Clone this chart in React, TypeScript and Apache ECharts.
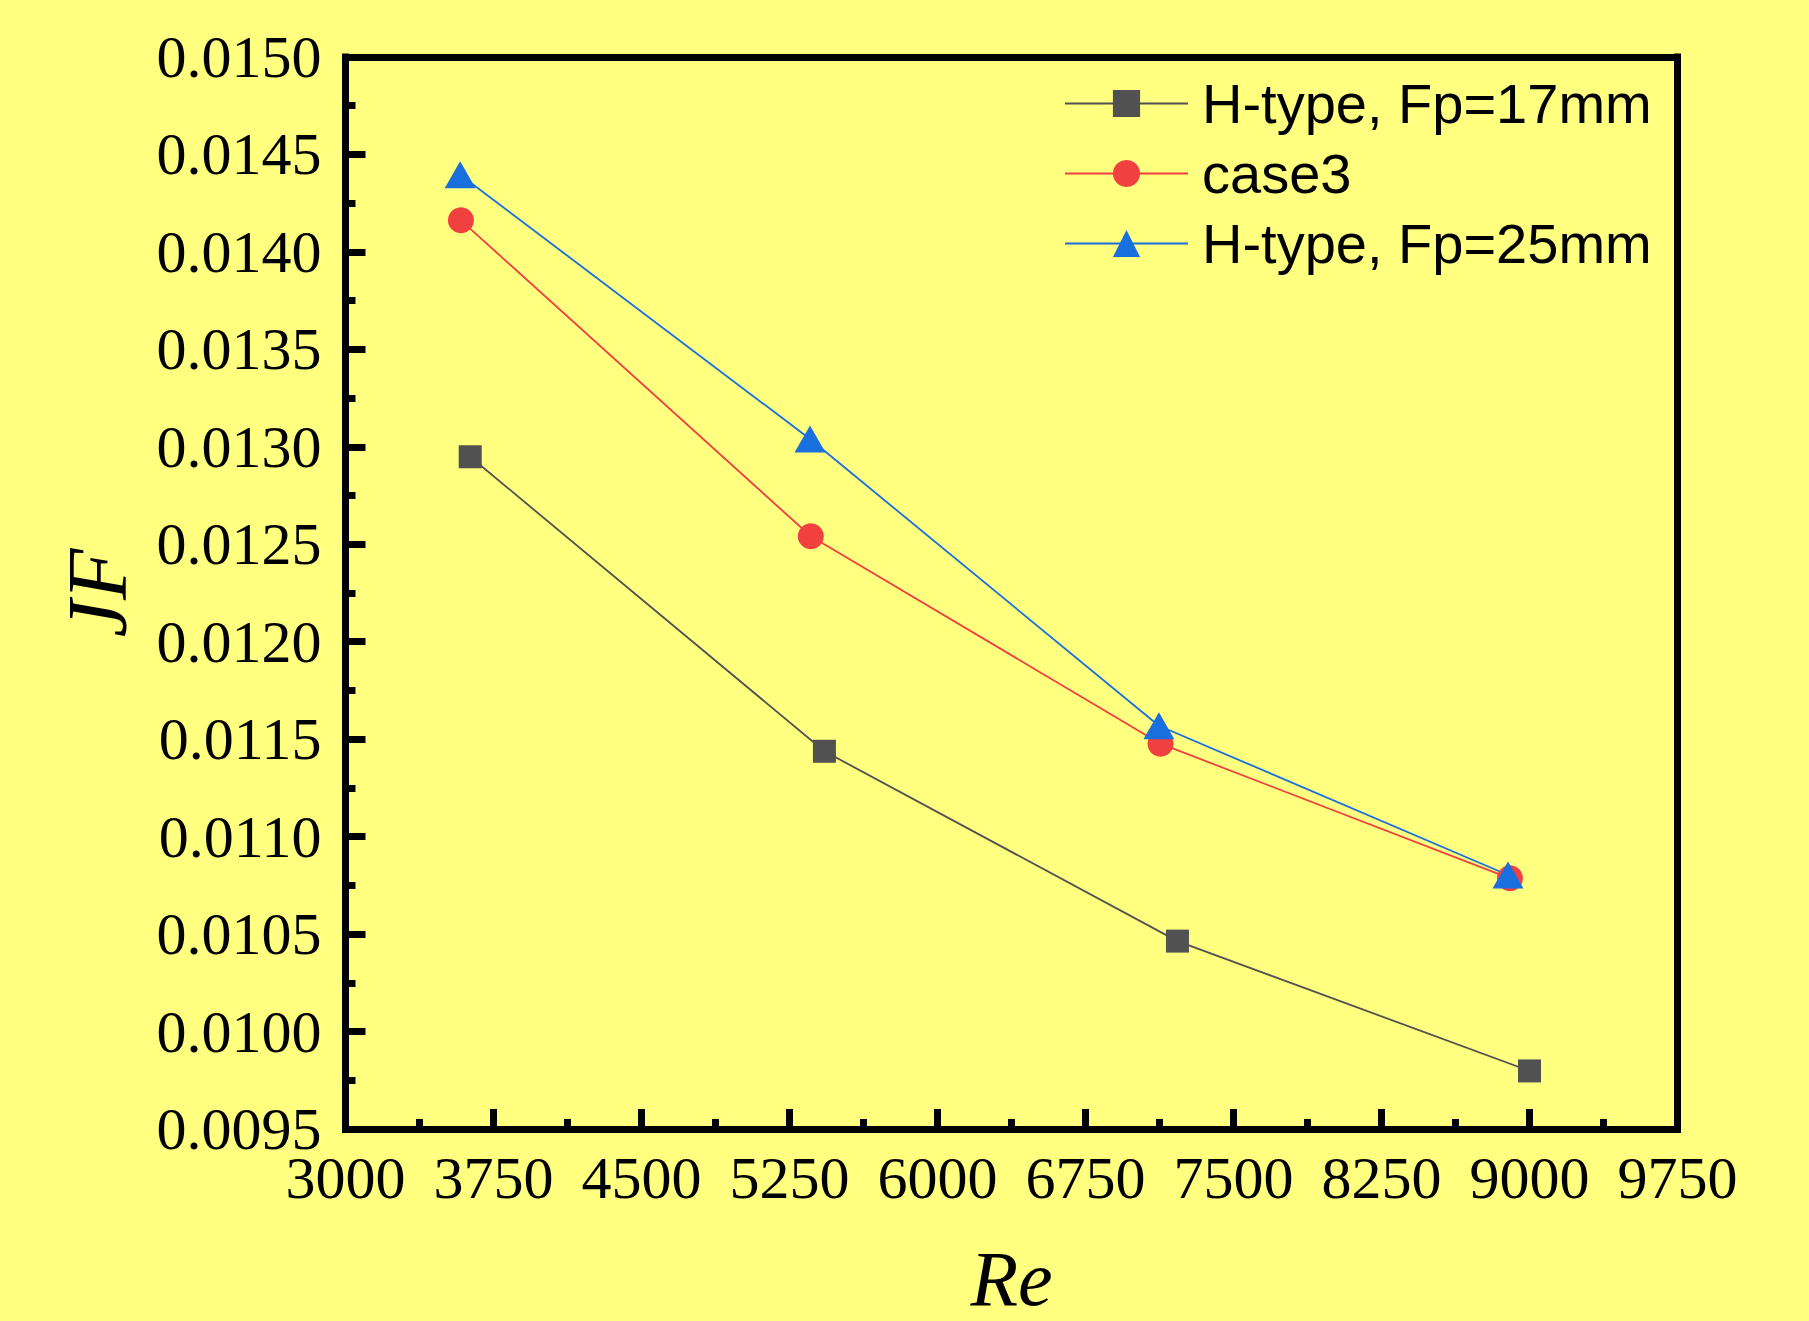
import React, { useEffect, useRef } from "react";
import * as echarts from "echarts";

const seriesNames = ["H-type, Fp=17mm", "case3", "H-type, Fp=25mm"];
const reFp17 = [3632, 5427, 7216, 9000];
const jfFp17 = [0.012949, 0.011438, 0.010464, 0.009798];
const reCase3 = [3585, 5358, 7130, 8901];
const jfCase3 = [0.014162, 0.012541, 0.011477, 0.010786];
const reFp25 = [3581, 5354, 7122, 8891];
const jfFp25 = [0.014396, 0.01304, 0.011569, 0.010803];
const colors = ["#515151", "#F14040", "#1A6FDF"];
const symbols = ["rect", "circle", "triangle"];
const symbolSizes: any[] = [23, 26, [31, 27]];
const xRange = { min: 3000, max: 9750, interval: 750 };
const yRange = { min: 0.0095, max: 0.015, interval: 0.0005 };
const xName = "Re";
const yName = "JF";

const SERIF = '"Times New Roman", "Liberation Serif", serif';
const SANS = 'Arial, "Liberation Sans", sans-serif';

export default function App() {
  const ref = useRef<HTMLDivElement>(null);
  useEffect(() => {
    if (!ref.current) return;
    const chart = echarts.init(ref.current, null, { renderer: "svg" });
    const xs = [reFp17, reCase3, reFp25];
    const ys = [jfFp17, jfCase3, jfFp25];
    const axisLine = { show: true, lineStyle: { color: "#000", width: 7, cap: "square" } };
    const option: any = {
      animation: false,
      backgroundColor: "#FFFF80",
      grid: {
        left: 345.5,
        right: 131.5,
        top: 57,
        bottom: 192,
        containLabel: false,
        outerBoundsMode: "none",
      },
      legend: {
        orient: "vertical",
        left: 1064,
        top: 75.5,
        padding: 0,
        itemWidth: 123,
        itemHeight: 34,
        itemGap: 14,
        data: seriesNames,
        textStyle: {
          fontFamily: SANS,
          fontSize: 56,
          lineHeight: 55,
          color: "#000",
          padding: [0, 0, 0, 9],
        },
      },
      xAxis: [
        {
          type: "value",
          position: "bottom",
          ...xRange,
          name: xName,
          nameLocation: "middle",
          nameGap: 110,
          nameTextStyle: { fontFamily: SERIF, fontStyle: "italic", fontSize: 78, color: "#000" },
          axisLine,
          axisTick: { show: true, inside: true, length: 20, lineStyle: { color: "#000", width: 7 } },
          minorTick: { show: true, splitNumber: 2, length: 10, lineStyle: { color: "#000", width: 7 } },
          axisLabel: {
            fontFamily: SERIF,
            fontSize: 60,
            color: "#000",
            margin: 19,
            formatter: (v: number) => String(v),
          },
          splitLine: { show: false },
        },
        {
          type: "value",
          position: "top",
          ...xRange,
          axisLine,
          axisTick: { show: false },
          axisLabel: { show: false },
          splitLine: { show: false },
        },
      ],
      yAxis: [
        {
          type: "value",
          position: "left",
          ...yRange,
          name: yName,
          nameLocation: "middle",
          nameGap: 206,
          nameTextStyle: { fontFamily: SERIF, fontStyle: "italic", fontSize: 84, color: "#000" },
          axisLine,
          axisTick: { show: true, inside: true, length: 20, lineStyle: { color: "#000", width: 7 } },
          minorTick: { show: true, splitNumber: 2, length: 10, lineStyle: { color: "#000", width: 7 } },
          axisLabel: {
            fontFamily: SERIF,
            fontSize: 60,
            color: "#000",
            margin: 24,
            formatter: (v: number) => v.toFixed(4),
          },
          splitLine: { show: false },
        },
        {
          type: "value",
          position: "right",
          ...yRange,
          axisLine,
          axisTick: { show: false },
          axisLabel: { show: false },
          splitLine: { show: false },
        },
      ],
      series: seriesNames.map((name, i) => ({
        name,
        type: "line",
        xAxisIndex: 0,
        yAxisIndex: 0,
        data: xs[i].map((x, j) => [x, ys[i][j]]),
        symbol: symbols[i],
        symbolSize: symbolSizes[i],
        showSymbol: true,
        color: colors[i],
        itemStyle: { color: colors[i], borderWidth: 0 },
        lineStyle: { color: colors[i], width: 1.8 },
        emphasis: { disabled: true },
      })),
    };
    chart.setOption(option);
    return () => chart.dispose();
  }, []);
  return (
    <div
      ref={ref}
      style={{ position: "absolute", left: 0, top: 0, width: 1809, height: 1321, background: "#FFFF80" }}
    />
  );
}
